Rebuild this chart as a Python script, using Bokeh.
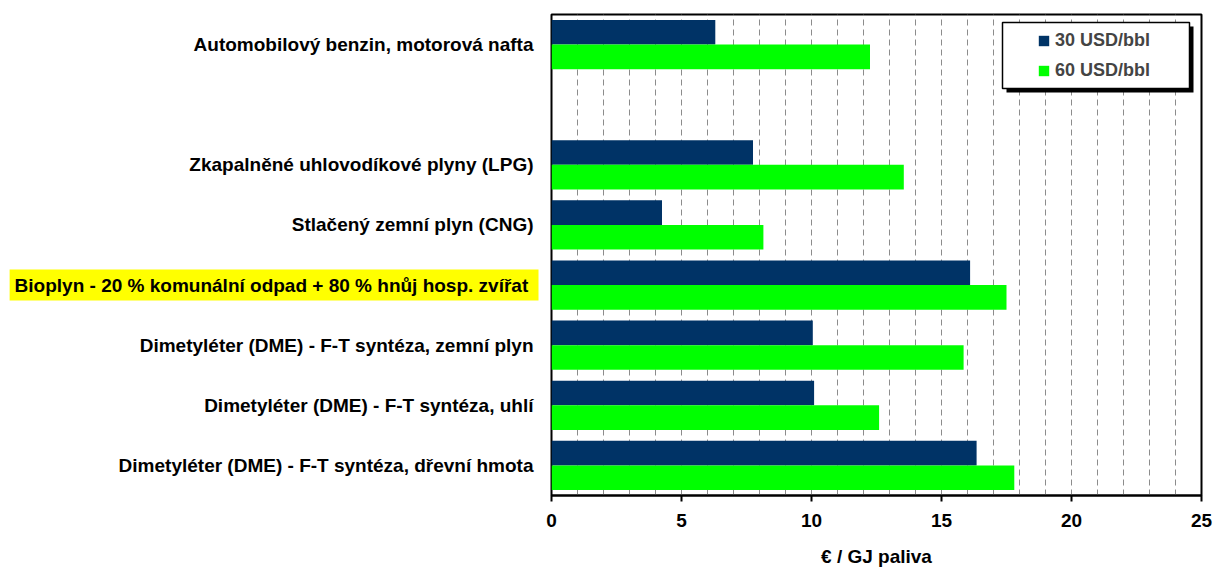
from bokeh.plotting import figure
from bokeh.layouts import row
from bokeh.models import (Range1d, FixedTicker, Legend, LegendItem,
                          BoxAnnotation, ColumnDataSource)
from bokeh.core.properties import value
from bokeh.embed import file_html
from bokeh.resources import INLINE

categories = [
    "Automobilový benzin, motorová nafta",
    "",
    "Zkapalněné uhlovodíkové plyny (LPG)",
    "Stlačený zemní plyn (CNG)",
    "Bioplyn -  20 % komunální odpad + 80 % hnůj hosp. zvířat",
    "Dimetyléter (DME) - F-T syntéza, zemní plyn",
    "Dimetyléter (DME) - F-T syntéza, uhlí",
    "Dimetyléter (DME) - F-T syntéza, dřevní hmota",
]
series_names = ["30 USD/bbl", "60 USD/bbl"]
usd30 = [6.3, None, 7.75, 4.25, 16.1, 10.05, 10.1, 16.35]
usd60 = [12.25, None, 13.55, 8.15, 17.5, 15.85, 12.6, 17.8]
highlighted = "Bioplyn -  20 % komunální odpad + 80 % hnůj hosp. zvířat"
x_ticks = [0, 5, 10, 15, 20, 25]
x_title = "€ / GJ paliva"

FONT = "Liberation Sans"
FS = "19px"
DARK = "#003366"
GREEN = "#00ff00"

n = len(categories)
centers = [n - 0.5 - i for i in range(n)]
bar_h = 0.41
y_range = Range1d(0, n)

idx = [i for i in range(n) if usd30[i] is not None]
src30 = ColumnDataSource(dict(y=[centers[i] + bar_h / 2 for i in idx],
                              right=[usd30[i] for i in idx]))
src60 = ColumnDataSource(dict(y=[centers[i] - bar_h / 2 for i in idx],
                              right=[usd60[i] for i in idx]))

# ---------- label panel (category names) ----------
LW = 541
lab = figure(width=LW, height=572, output_backend="svg", toolbar_location=None,
             x_range=Range1d(0, LW), y_range=y_range,
             min_border_left=0, min_border_right=0, min_border_top=14,
             min_border_bottom=77)
lab.axis.visible = False
lab.grid.visible = False
lab.outline_line_color = None

norm = [(c, t) for c, t in zip(centers, categories) if t and t != highlighted]
hi = [(c, t) for c, t in zip(centers, categories) if t == highlighted]
lab.text(x=[533] * len(norm), y=[c for c, _ in norm], text=[t for _, t in norm],
         text_align="right", text_baseline="middle", text_font=value(FONT),
         text_font_style="bold", text_font_size=FS, text_color="black")
lab.text(x=[538] * len(hi), y=[c for c, _ in hi], text=[t for _, t in hi],
         text_align="right", text_baseline="middle", text_font=value(FONT),
         text_font_style="bold", text_font_size=FS, text_color="black",
         background_fill_color="#ffff00", padding=5)

# ---------- main chart ----------
p = figure(width=672, height=572, output_backend="svg", toolbar_location=None,
           x_range=Range1d(0, 25), y_range=y_range,
           min_border_left=10, min_border_right=12, min_border_top=14,
           min_border_bottom=77)

p.outline_line_color = "black"
p.outline_line_width = 2
p.background_fill_color = "white"

r30 = p.hbar(y="y", right="right", left=0, height=bar_h, source=src30,
             fill_color=DARK, line_color=None)
r60 = p.hbar(y="y", right="right", left=0, height=bar_h, source=src60,
             fill_color=GREEN, line_color=None)

p.yaxis.visible = False
p.ygrid.visible = False
p.xaxis.ticker = FixedTicker(ticks=x_ticks)
p.xaxis.minor_tick_line_color = None
p.xaxis.major_tick_out = 6
p.xaxis.major_tick_in = 0
p.xaxis.major_tick_line_width = 2
p.xaxis.axis_line_width = 2
p.xaxis.major_label_text_font = FONT
p.xaxis.major_label_text_font_style = "bold"
p.xaxis.major_label_text_font_size = FS
p.xaxis.major_label_text_color = "black"
p.xaxis.major_label_standoff = 12
p.xaxis.axis_label = x_title
p.xaxis.axis_label_text_font = FONT
p.xaxis.axis_label_text_font_style = "bold"
p.xaxis.axis_label_text_font_size = FS
p.xaxis.axis_label_text_color = "black"
p.xaxis.axis_label_standoff = 16

p.xgrid.ticker = FixedTicker(ticks=list(range(1, 25)))
p.xgrid.grid_line_color = "#8c8c8c"
p.xgrid.grid_line_dash = "6 4"
p.xgrid.grid_line_width = 1

# legend box with shadow
px_x = 25 / 650
px_y = n / 481
lx0, lx1 = 451 * px_x, 638 * px_x
ly1, ly0 = n - 8 * px_y, n - 74 * px_y
p.add_layout(BoxAnnotation(left=lx0 + 4 * px_x, right=lx1 + 4 * px_x,
                           bottom=ly0 - 4 * px_y, top=ly1 - 4 * px_y,
                           fill_color="black", fill_alpha=1, line_color=None,
                           level="overlay"))
p.add_layout(BoxAnnotation(left=lx0, right=lx1, bottom=ly0, top=ly1,
                           fill_color="white", fill_alpha=1, line_color="black",
                           line_width=1.5, line_alpha=1, level="overlay"))

legend = Legend(items=[LegendItem(label=series_names[0], renderers=[r30]),
                       LegendItem(label=series_names[1], renderers=[r60])],
                location=(486, 414), padding=0, margin=0, spacing=8,
                glyph_width=13, glyph_height=13, label_height=22,
                label_standoff=5, border_line_alpha=0,
                background_fill_alpha=0,
                label_text_font=FONT, label_text_font_style="bold",
                label_text_font_size="18px")
p.add_layout(legend)

layout = row(lab, p, spacing=0)
open("out.html", "w").write(file_html(layout, INLINE))
